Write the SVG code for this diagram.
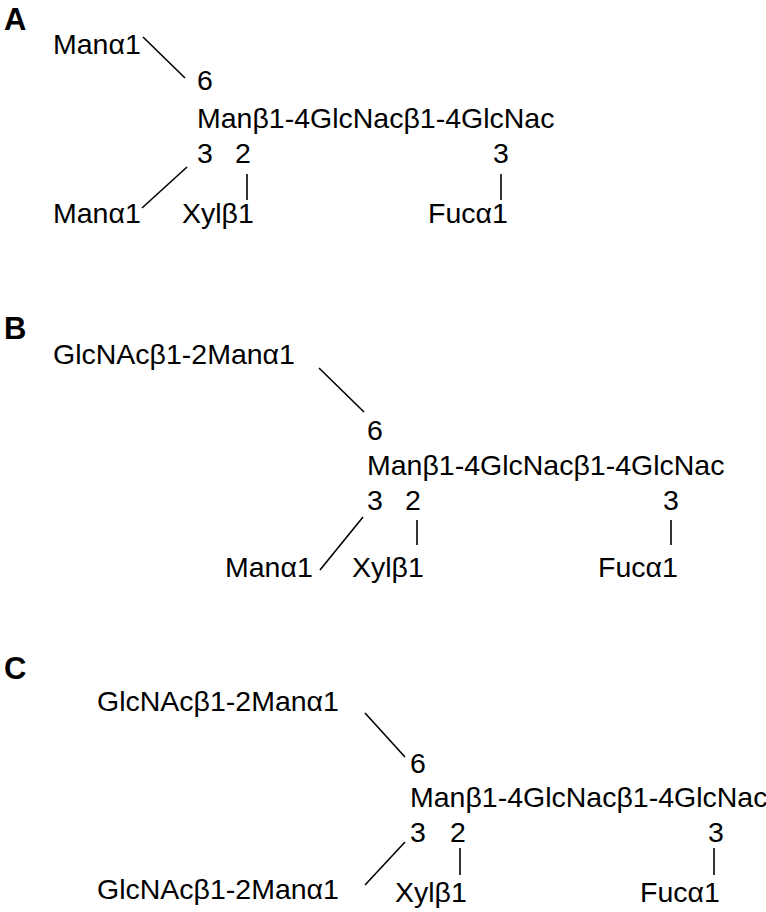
<svg xmlns="http://www.w3.org/2000/svg" width="766" height="912" viewBox="0 0 766 912">
<style>
text{font-family:"Liberation Sans",Arial,sans-serif;font-size:28.5px;fill:#000}
.panel{font-weight:bold;font-size:31px}
.c line{stroke:#000;stroke-width:1.6}
</style>
<rect width="766" height="912" fill="#fff"/>
<!-- Panel A -->
<g id="panelA">
<text class="panel" x="4" y="30">A</text>
<g id="A-man6"><text x="53" y="54">Manα1</text></g>
<g id="A-core"><text x="197" y="90">6</text><text x="197" y="128">Manβ1-4GlcNacβ1-4GlcNac</text><text x="197" y="163">3</text><text x="235" y="163">2</text><text x="493" y="163">3</text></g>
<g id="A-man3"><text x="53" y="223">Manα1</text></g>
<g id="A-xyl"><text x="182" y="223">Xylβ1</text></g>
<g id="A-fuc"><text x="428" y="223">Fucα1</text></g>
</g>
<!-- Panel B -->
<g id="panelB">
<text class="panel" x="4" y="339">B</text>
<g id="B-glc6"><text x="53" y="364">GlcNAcβ1-2Manα1</text></g>
<g id="B-core"><text x="367" y="440">6</text><text x="367" y="475">Manβ1-4GlcNacβ1-4GlcNac</text><text x="367" y="510">3</text><text x="405" y="510">2</text><text x="663" y="510">3</text></g>
<g id="B-man3"><text x="225" y="577">Manα1</text></g>
<g id="B-xyl"><text x="352" y="577">Xylβ1</text></g>
<g id="B-fuc"><text x="598" y="577">Fucα1</text></g>
</g>
<!-- Panel C -->
<g id="panelC">
<text class="panel" x="4" y="679">C</text>
<g id="C-glc6"><text x="97" y="711">GlcNAcβ1-2Manα1</text></g>
<g id="C-core"><text x="410" y="773">6</text><text x="410" y="807">Manβ1-4GlcNacβ1-4GlcNac</text><text x="410" y="842">3</text><text x="450" y="842">2</text><text x="708" y="842">3</text></g>
<g id="C-glc3"><text x="97" y="899">GlcNAcβ1-2Manα1</text></g>
<g id="C-xyl"><text x="395" y="902">Xylβ1</text></g>
<g id="C-fuc"><text x="640" y="902">Fucα1</text></g>
</g>
<g id="connectors" class="c">
<line x1="143" y1="37" x2="185" y2="78"/>
<line x1="187" y1="167" x2="142" y2="208"/>
<line x1="247" y1="174" x2="247" y2="200"/>
<line x1="501" y1="174" x2="501" y2="200"/>
<line x1="319" y1="368" x2="364" y2="412"/>
<line x1="363" y1="517" x2="320" y2="570"/>
<line x1="417" y1="520" x2="417" y2="545"/>
<line x1="671" y1="520" x2="671" y2="545"/>
<line x1="365" y1="713" x2="405" y2="757"/>
<line x1="405" y1="842" x2="365" y2="885"/>
<line x1="460" y1="848" x2="460" y2="875"/>
<line x1="714" y1="848" x2="714" y2="875"/>
</g>
</svg>
